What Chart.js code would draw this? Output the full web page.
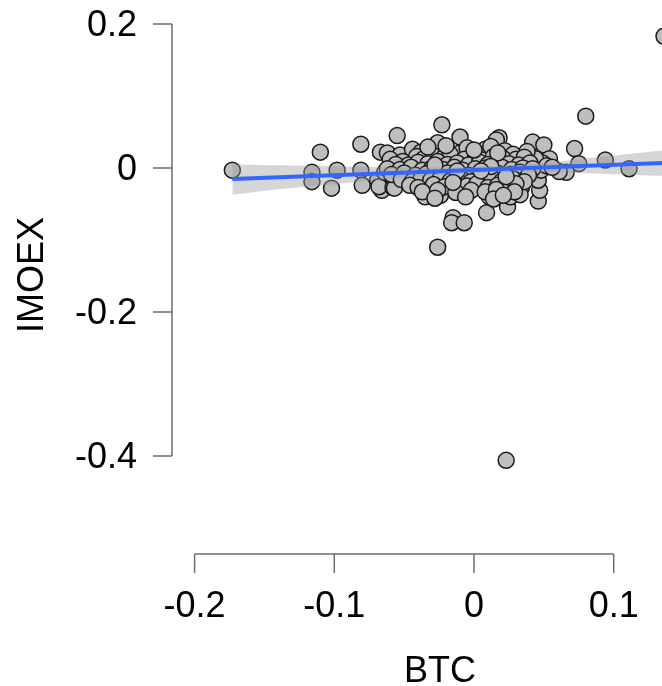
<!DOCTYPE html>
<html>
<head>
<meta charset="utf-8">
<script src="https://cdn.jsdelivr.net/npm/chart.js@4.4.1/dist/chart.umd.min.js"></script>
<style>
  body { margin: 0; background: #fff; }
  canvas { display: block; }
</style>
</head>
<body>
<canvas id="chart1" width="662" height="686"></canvas>
<script>
// daily returns
var btcReturns = [
    -0.173,-0.110,-0.116,-0.116,-0.102,-0.098,-0.081,-0.081,-0.080,-0.067,
    -0.062,-0.069,-0.066,-0.068,-0.064,-0.058,-0.058,-0.055,-0.023,-0.010,
    0.018,0.042,0.050,0.080,0.072,0.054,0.075,0.094,0.111,0.136,
    0.023,-0.026,-0.015,-0.016,-0.007,0.009,0.024,0.046,0.047,0.046,
    0.026,0.034,0.066,0.048,0.061,0.049,0.044,0.033,-0.034,-0.035,
    -0.024,-0.008,0.004,0.011,-0.057,-0.048,-0.031,-0.026,-0.019,-0.015,
    -0.010,-0.003,0.003,0.016,-0.046,-0.053,
    // dense middle
    -0.044,-0.038,-0.005,0.008,0.012,0.022,0.028,0.038,
    -0.060,-0.051,-0.041,-0.036,-0.029,-0.022,-0.017,-0.007,0.001,0.006,0.014,0.021,0.030,0.036,
    -0.056,-0.047,-0.040,-0.033,-0.026,-0.019,-0.012,-0.004,0.004,0.010,0.017,0.025,0.032,0.040,0.052,
    -0.062,-0.053,-0.045,-0.037,-0.030,-0.022,-0.014,-0.008,0.001,0.008,0.015,0.020,0.027,0.035,0.042,0.056,
    -0.059,-0.050,-0.042,-0.034,-0.027,-0.019,-0.012,-0.004,0.004,0.011,0.018,0.026,0.033,0.039,
    -0.052,-0.044,-0.038,-0.031,-0.024,-0.017,-0.009,-0.002,0.006,0.013,0.020,0.028,0.036,
    -0.046,-0.040,-0.029,-0.021,-0.013,-0.005,0.002,0.010,0.017,0.024,0.030,
    -0.037,-0.026,-0.013,-0.002,0.008,0.016,0.029,
    -0.028,-0.006,0.014,0.021,
    -0.020,-0.033,0.000,0.017,-0.012,0.012,-0.028,0.023,-0.015,0.005
];
var imoexReturns = [
    -0.003,0.022,-0.006,-0.019,-0.028,-0.003,0.033,-0.003,-0.024,0.022,
    0.021,-0.017,-0.031,-0.026,-0.006,-0.013,-0.027,0.045,0.060,0.043,
    0.042,0.036,0.032,0.072,0.027,0.013,0.006,0.011,-0.001,0.183,
    -0.406,-0.110,-0.069,-0.076,-0.076,-0.062,-0.054,-0.046,-0.031,-0.017,
    -0.040,-0.027,-0.006,-0.003,-0.005,0.007,0.013,-0.037,-0.026,-0.040,
    -0.038,-0.033,-0.026,-0.040,-0.028,-0.017,0.025,0.035,0.025,0.011,
    0.021,0.018,0.021,0.039,0.014,0.018,
    // dense middle
    0.026,0.022,0.028,0.026,0.030,0.024,0.019,0.023,
    0.012,0.009,0.016,0.013,0.017,0.014,0.019,0.012,0.015,0.011,0.016,0.013,0.012,0.015,
    0.005,0.004,0.008,0.006,0.009,0.005,0.007,0.004,0.008,0.005,0.009,0.006,0.004,0.007,0.003,
    -0.001,-0.002,0.001,-0.003,0.000,-0.002,0.001,-0.003,-0.001,0.000,-0.003,0.001,-0.002,0.000,-0.001,0.001,
    -0.009,-0.007,-0.010,-0.008,-0.011,-0.007,-0.009,-0.010,-0.007,-0.011,-0.008,-0.009,-0.006,-0.010,
    -0.016,-0.018,-0.015,-0.017,-0.014,-0.018,-0.015,-0.019,-0.016,-0.014,-0.018,-0.015,-0.019,
    -0.024,-0.027,-0.023,-0.026,-0.023,-0.025,-0.022,-0.027,-0.024,-0.026,-0.022,
    -0.033,-0.031,-0.034,-0.031,-0.033,-0.030,-0.033,
    -0.042,-0.040,-0.043,-0.038,
    0.031,0.029,0.025,0.021,-0.004,0.002,0.004,-0.012,-0.020,-0.004
];

// regression line and its confidence band
var fitX = [-0.173, 0.136];
var fitY = [-0.0152, 0.0070];
var bandX    = [-0.173, -0.14, -0.1, -0.05, 0, 0.05, 0.1, 0.136];
var bandLow  = [-0.0370, -0.0294, -0.0224, -0.0137, -0.0070, -0.0056, -0.0086, -0.0109];
var bandHigh = [0.0050, 0.0038, 0.0024, 0.0009, 0.0014, 0.0072, 0.0174, 0.0247];

var xTicks = [-0.2, -0.1, 0, 0.1];
var xTickLabels = ['-0.2', '-0.1', '0', '0.1'];
var yTicks = [-0.4, -0.2, 0, 0.2];
var yTickLabels = ['-0.4', '-0.2', '0', '0.2'];

function pairs(xs, ys) {
    return xs.map(function(x, i) { return { x: x, y: ys[i] }; });
}

var FONT = '36px "Liberation Sans", Arial, sans-serif';

var baseAxes = {
    id: 'baseAxes',
    afterDraw: function(chart) {
        var c = chart.ctx, xs = chart.scales.x, ys = chart.scales.y;
        var left = chart.chartArea.left, bottom = chart.chartArea.bottom;
        c.save();
        c.strokeStyle = '#6e6e6e';
        c.lineWidth = 1.5;
        c.fillStyle = '#000';
        c.font = FONT;

        // y axis
        c.beginPath();
        c.moveTo(left, ys.getPixelForValue(yTicks[0]));
        c.lineTo(left, ys.getPixelForValue(yTicks[yTicks.length - 1]));
        yTicks.forEach(function(v) {
            var py = ys.getPixelForValue(v);
            c.moveTo(left, py);
            c.lineTo(left - 19, py);
        });
        c.stroke();
        c.textAlign = 'right';
        c.textBaseline = 'middle';
        yTicks.forEach(function(v, i) {
            c.fillText(yTickLabels[i], 137, ys.getPixelForValue(v) + 2);
        });

        // x axis
        c.beginPath();
        c.moveTo(xs.getPixelForValue(xTicks[0]), bottom);
        c.lineTo(xs.getPixelForValue(xTicks[xTicks.length - 1]), bottom);
        xTicks.forEach(function(v) {
            var px = xs.getPixelForValue(v);
            c.moveTo(px, bottom);
            c.lineTo(px, bottom + 19);
        });
        c.stroke();
        c.textAlign = 'center';
        c.textBaseline = 'alphabetic';
        xTicks.forEach(function(v, i) {
            c.fillText(xTickLabels[i], xs.getPixelForValue(v), 617);
        });

        // titles
        c.fillText('BTC', 440, 682);
        c.translate(43, 275);
        c.rotate(-Math.PI / 2);
        c.fillText('IMOEX', 0, 0);
        c.restore();
    }
};

var ctx = document.getElementById('chart1').getContext('2d');
var myChart = new Chart(ctx, {
    type: 'scatter',
    data: {
        datasets: [{
            label: 'fit',
            data: pairs(fitX, fitY),
            showLine: true,
            borderColor: '#3366FF',
            borderWidth: 4,
            pointRadius: 0,
            fill: false
        }, {
            label: 'band high',
            data: pairs(bandX, bandHigh),
            showLine: true,
            borderWidth: 0,
            borderColor: 'rgba(0,0,0,0)',
            pointRadius: 0,
            backgroundColor: 'rgba(153,153,153,0.4)',
            fill: '+1',
            tension: 0.3
        }, {
            label: 'band low',
            data: pairs(bandX, bandLow),
            showLine: true,
            borderWidth: 0,
            borderColor: 'rgba(0,0,0,0)',
            pointRadius: 0,
            fill: false,
            tension: 0.3
        }, {
            label: 'days',
            data: pairs(btcReturns, imoexReturns),
            backgroundColor: '#bebebe',
            borderColor: '#1a1a1a',
            borderWidth: 1.5,
            pointRadius: 8,
            clip: false
        }]
    },
    options: {
        responsive: false,
        animation: false,
        layout: { autoPadding: false, padding: { left: 172, right: 0, top: 0, bottom: 132 } },
        plugins: {
            legend: { display: false },
            tooltip: { enabled: false }
        },
        scales: {
            x: { type: 'linear', display: false, min: -0.21618, max: 0.13457 },
            y: { type: 'linear', display: false, min: -0.53611, max: 0.23333 }
        }
    },
    plugins: [baseAxes]
});
</script>
</body>
</html>
